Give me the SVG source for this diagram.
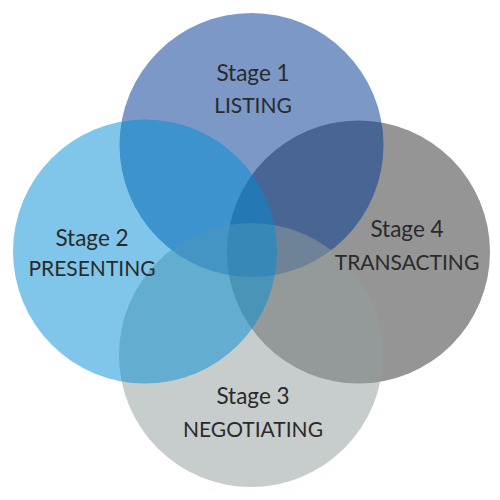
<svg xmlns="http://www.w3.org/2000/svg" width="500" height="500" viewBox="0 0 500 500">
<style>
.lbl{font-family:Lato,"Noto Sans","DejaVu Sans",sans-serif;font-size:21px;fill:#2a2a2a;text-anchor:middle}
.st{font-size:22.5px}
</style>
<rect width="500" height="500" fill="#ffffff"/>
<g id="stage4-circle"><circle cx="358.5" cy="252" r="131.5" fill="#959595"/></g>
<g id="stage1-circle"><circle cx="251.5" cy="145" r="132" fill="#013991" fill-opacity="0.52"/></g>
<g id="stage3-circle"><circle cx="251" cy="355" r="132" fill="#939f9d" fill-opacity="0.52"/></g>
<g id="stage2-circle"><circle cx="145" cy="251.5" r="132" fill="#008dd5" fill-opacity="0.5"/></g>
<g id="stage1"><text class="lbl st" x="253" y="81">Stage 1</text><text class="lbl" x="253" y="113">LISTING</text></g>
<g id="stage2"><text class="lbl st" x="92" y="246">Stage 2</text><text class="lbl" x="92" y="276">PRESENTING</text></g>
<g id="stage4"><text class="lbl st" x="407" y="237">Stage 4</text><text class="lbl" x="407" y="270">TRANSACTING</text></g>
<g id="stage3"><text class="lbl st" x="253" y="404">Stage 3</text><text class="lbl" x="253" y="437">NEGOTIATING</text></g>
</svg>
